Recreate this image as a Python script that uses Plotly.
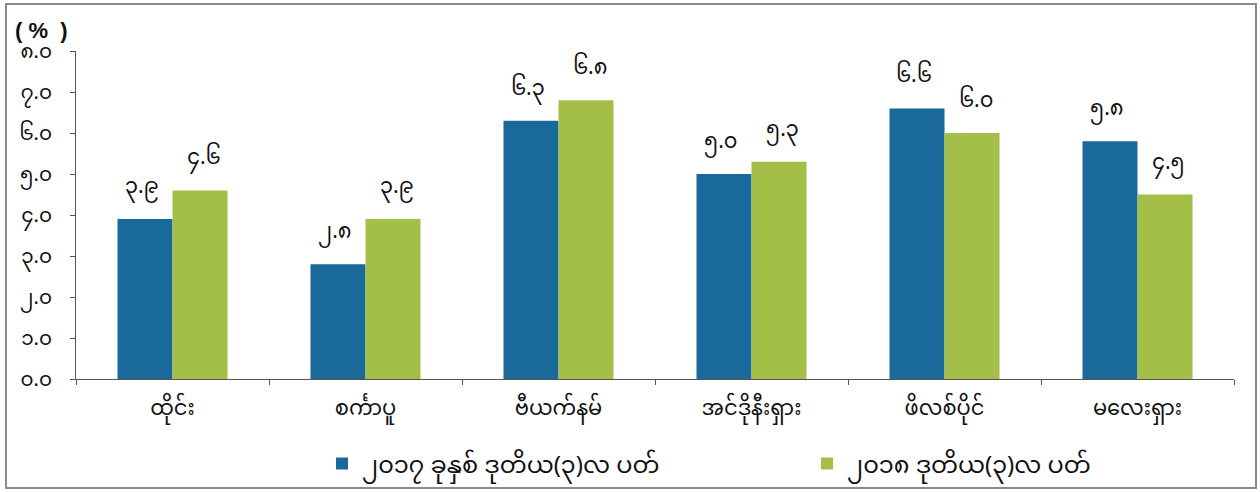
import plotly.graph_objects as go

categories = ["ထိုင်း", "စင်္ကာပူ", "ဗီယက်နမ်", "အင်ဒိုနီးရှား", "ဖိလစ်ပိုင်", "မလေးရှား"]
series_names = ["၂၀၁၇ ခုနှစ် ဒုတိယ(၃)လ ပတ်", "၂၀၁၈ ဒုတိယ(၃)လ ပတ်"]
values_2017 = [3.9, 2.8, 6.3, 5.0, 6.6, 5.8]
values_2018 = [4.6, 3.9, 6.8, 5.3, 6.0, 4.5]
tick_vals = [0, 1, 2, 3, 4, 5, 6, 7, 8]
tick_text = ["၀.၀", "၁.၀", "၂.၀", "၃.၀", "၄.၀", "၅.၀", "၆.၀", "၇.၀", "၈.၀"]

MY_DIGITS = "၀၁၂၃၄၅၆၇၈၉"


def to_my(v):
    s = f"{v:.1f}"
    return "".join(MY_DIGITS[int(c)] if c.isdigit() else c for c in s)


colors = ["#19699a", "#a3bf48"]
font_family = "Noto Sans Myanmar, Padauk, Myanmar Text, Noto Sans, DejaVu Sans, sans-serif"

fig = go.Figure()
for name, vals, col in zip(series_names, [values_2017, values_2018], colors):
    fig.add_trace(go.Bar(
        x=categories, y=vals, name=name, marker=dict(color=col, line=dict(width=0)),
        textposition="none", hoverinfo="skip",
    ))

# value labels
for i, (vals, shift) in enumerate([(values_2017, -31), (values_2018, 31)]):
    for c, v in zip(categories, vals):
        fig.add_annotation(x=c, y=v, xref="x", yref="y", text=to_my(v), showarrow=False,
                           xshift=shift, yshift=6, yanchor="bottom",
                           font=dict(size=21, color="#111111", family=font_family))

fig.add_annotation(x=(13 - 76) / 1158, y=(379 - 31) / 328, xref="paper", yref="paper",
                   text="<b>(&nbsp;%&nbsp;&nbsp;)</b>", showarrow=False,
                   xanchor="left", yanchor="middle",
                   font=dict(size=22, color="#111111", family="Liberation Sans, Arial, sans-serif"))

fig.add_shape(type="rect", xref="paper", yref="paper",
              x0=(6 - 76) / 1158, x1=(1256 - 76) / 1158, y0=(379 - 488) / 328, y1=(379 - 4) / 328,
              line=dict(color="#8a8a8a", width=2), fillcolor="rgba(0,0,0,0)")

fig.update_layout(
    width=1260, height=492,
    paper_bgcolor="white", plot_bgcolor="white",
    margin=dict(l=76, r=26, t=51, b=113, autoexpand=False),
    barmode="group", bargap=0.43, bargroupgap=0.0,
    font=dict(family=font_family, color="#111111"),
    showlegend=True,
    legend=dict(orientation="h", x=(322 - 76) / 1158, xanchor="left",
                y=(379 - 464) / 328, yanchor="middle",
                font=dict(size=24, family=font_family, color="#111111"),
                itemwidth=30, entrywidth=440, bgcolor="rgba(0,0,0,0)"),
    xaxis=dict(showline=True, linecolor="#555555", linewidth=1, ticks="outside",
               tickcolor="#555555", ticklen=5, tickson="boundaries", automargin=False,
               ticklabelstandoff=10,
               tickfont=dict(size=21, family=font_family, color="#111111"), showgrid=False),
    yaxis=dict(range=[0, 8], tickvals=tick_vals, ticktext=tick_text, showline=True,
               linecolor="#555555", linewidth=1, ticks="outside", tickcolor="#555555", ticklen=5,
               showgrid=False, zeroline=False, automargin=False, ticklabelstandoff=14,
               tickfont=dict(size=20, family=font_family, color="#111111")),
)

fig.write_html("out.html", config={"displayModeBar": False},
               post_script="document.body.style.margin='0px';document.body.style.overflow='hidden';")
